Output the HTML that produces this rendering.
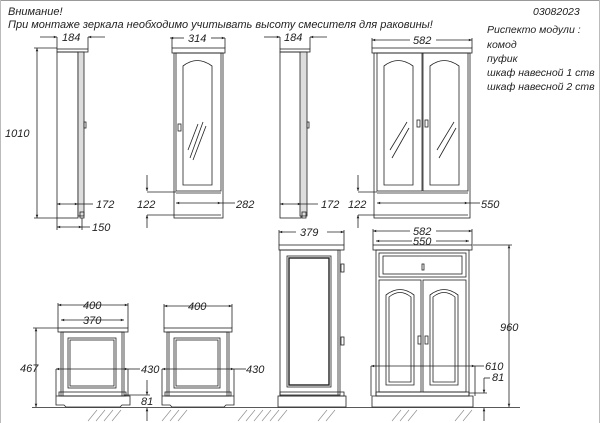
<!DOCTYPE html>
<html><head><meta charset="utf-8"><style>
html,body{margin:0;padding:0;background:#fff;}
svg{display:block;}
text{font-family:"Liberation Sans","DejaVu Sans",sans-serif;font-style:italic;fill:#222;}
</style></head><body>
<svg width="600" height="423" viewBox="0 0 600 423" xmlns="http://www.w3.org/2000/svg">
<defs>
<marker id="a" viewBox="0 0 10 10" refX="10" refY="5" markerWidth="6" markerHeight="4" orient="auto-start-reverse"><path d="M0,1 L10,5 L0,9z" fill="#222"/></marker>
</defs>
<rect x="0" y="0" width="600" height="423" fill="#fff"/>
<line x1="0" y1="0.5" x2="600" y2="0.5" stroke="#999"/>
<line x1="0.5" y1="0" x2="0.5" y2="423" stroke="#bbb"/>
<line x1="599.5" y1="0" x2="599.5" y2="423" stroke="#bbb"/>
<text x="8" y="15" font-size="11">Внимание!</text>
<text x="8" y="28" font-size="11">При монтаже зеркала необходимо учитывать высоту смесителя для раковины!</text>
<text x="533" y="15" font-size="10.5">03082023</text>
<g font-size="10.5">
<text x="487" y="33">Риспекто  модули :</text>
<text x="487" y="48">комод</text>
<text x="487" y="62">пуфик</text>
<text x="487" y="76">шкаф  навесной  1 ств</text>
<text x="487" y="90">шкаф  навесной  2 ств</text>
</g>
<g stroke="#222" stroke-width="0.8" fill="none">
<!-- Cabinet 1 side -->
<rect x="57" y="49" width="31" height="3"/>
<rect x="57" y="52" width="21" height="166"/>
<rect x="78" y="52" width="6" height="164" fill="#ddd"/>
<rect x="84" y="122" width="2" height="6"/>
<rect x="80" y="212" width="4" height="6"/>
<!-- dims -->
<line x1="40" y1="37" x2="57" y2="37" marker-end="url(#a)"/>
<line x1="105" y1="37" x2="88" y2="37" marker-end="url(#a)"/>
<line x1="57" y1="37" x2="57" y2="49"/><line x1="88" y1="37" x2="88" y2="49"/>
<line x1="37" y1="48" x2="37" y2="218" marker-start="url(#a)" marker-end="url(#a)"/>
<line x1="34" y1="48" x2="57" y2="48"/><line x1="34" y1="218" x2="57" y2="218"/>
<line x1="57" y1="204" x2="78" y2="204" marker-start="url(#a)" marker-end="url(#a)"/>
<line x1="78" y1="204" x2="93" y2="204"/>
<line x1="57" y1="227" x2="82" y2="227" marker-start="url(#a)" marker-end="url(#a)"/>
<line x1="82" y1="227" x2="90" y2="227"/>
<line x1="57" y1="218" x2="57" y2="230"/><line x1="82" y1="218" x2="82" y2="230"/>
<!-- Cabinet 2 front -->
<rect x="172" y="48" width="53" height="5"/>
<rect x="174" y="53" width="49" height="165"/>
<rect x="176" y="53" width="45" height="138"/>
<path d="M183,185 L183,66 Q197,55 212,66 L212,185 Z"/>
<line x1="176" y1="193" x2="221" y2="193"/>
<line x1="176" y1="215" x2="221" y2="215"/>
<rect x="178" y="124" width="3" height="7"/>
<line x1="190" y1="158" x2="203" y2="122"/><line x1="193" y1="160" x2="206" y2="126"/><line x1="188" y1="150" x2="198" y2="124"/>
<line x1="170" y1="38" x2="184" y2="38" marker-start="url(#a)"/>
<line x1="211" y1="38" x2="225" y2="38" marker-end="url(#a)"/>
<line x1="172" y1="38" x2="172" y2="48"/><line x1="225" y1="38" x2="225" y2="48"/>
<line x1="147" y1="175" x2="147" y2="191" marker-end="url(#a)"/>
<line x1="147" y1="228" x2="147" y2="215" marker-end="url(#a)"/>
<line x1="147" y1="192" x2="176" y2="192"/><line x1="147" y1="215" x2="176" y2="215"/>
<line x1="176" y1="203" x2="221" y2="203" marker-start="url(#a)" marker-end="url(#a)"/>
<line x1="221" y1="203" x2="235" y2="203"/>
<!-- Cabinet 3 side -->
<rect x="280" y="49" width="30" height="3"/>
<rect x="280" y="52" width="21" height="166"/>
<rect x="300" y="52" width="7" height="164" fill="#ddd"/>
<rect x="307" y="122" width="2" height="6"/>
<rect x="302" y="212" width="4" height="6"/>
<line x1="264" y1="37" x2="280" y2="37" marker-end="url(#a)"/>
<line x1="327" y1="37" x2="310" y2="37" marker-end="url(#a)"/>
<line x1="280" y1="37" x2="280" y2="49"/><line x1="310" y1="37" x2="310" y2="49"/>
<line x1="280" y1="204" x2="301" y2="204" marker-start="url(#a)" marker-end="url(#a)"/>
<line x1="301" y1="204" x2="318" y2="204"/>
<!-- Cabinet 4 two doors -->
<rect x="372" y="48" width="100" height="5"/>
<rect x="374" y="53" width="96" height="165"/>
<rect x="377" y="53" width="45" height="138"/><rect x="423" y="53" width="45" height="138"/>
<path d="M384,185 L384,66 Q398,55 413,66 L413,185 Z"/>
<path d="M430,185 L430,66 Q444,55 459,66 L459,185 Z"/>
<line x1="377" y1="193" x2="468" y2="193"/><line x1="377" y1="215" x2="468" y2="215"/>
<rect x="417" y="120" width="3" height="7"/><rect x="425" y="120" width="3" height="7"/>
<line x1="390" y1="150" x2="407" y2="122"/><line x1="392" y1="158" x2="409" y2="128"/><line x1="437" y1="150" x2="454" y2="122"/><line x1="439" y1="158" x2="456" y2="128"/>
<line x1="372" y1="40" x2="410" y2="40" marker-start="url(#a)"/>
<line x1="436" y1="40" x2="472" y2="40" marker-end="url(#a)"/>
<line x1="372" y1="38" x2="372" y2="48"/><line x1="472" y1="38" x2="472" y2="48"/>
<line x1="358" y1="175" x2="358" y2="191" marker-end="url(#a)"/>
<line x1="358" y1="228" x2="358" y2="215" marker-end="url(#a)"/>
<line x1="358" y1="192" x2="377" y2="192"/><line x1="358" y1="215" x2="377" y2="215"/>
<line x1="377" y1="203" x2="468" y2="203" marker-start="url(#a)" marker-end="url(#a)"/>
<line x1="468" y1="203" x2="480" y2="203"/>
<!-- Pouf 1 -->
<rect x="58" y="328" width="70" height="4"/>
<rect x="61" y="332" width="63" height="64"/><rect x="63" y="332" width="59" height="64"/>
<rect x="68" y="338" width="48" height="50"/><rect x="70" y="340" width="44" height="46"/>
<rect x="59" y="392" width="67" height="4"/>
<path d="M56,396 L130,396 L130,405 L122,405 L120,407 L66,407 L64,405 L56,405 Z"/>
<line x1="58" y1="305" x2="128" y2="305" marker-start="url(#a)" marker-end="url(#a)"/>
<line x1="58" y1="303" x2="58" y2="328"/><line x1="128" y1="303" x2="128" y2="328"/>
<line x1="61" y1="320" x2="124" y2="320" marker-start="url(#a)" marker-end="url(#a)"/>
<line x1="36" y1="328" x2="36" y2="407" marker-start="url(#a)" marker-end="url(#a)"/>
<line x1="33" y1="328" x2="58" y2="328"/>
<line x1="56" y1="369" x2="128" y2="369" marker-start="url(#a)" marker-end="url(#a)"/>
<line x1="56" y1="369" x2="56" y2="396"/><line x1="128" y1="369" x2="128" y2="396"/>
<line x1="128" y1="369" x2="140" y2="369"/>
<line x1="147" y1="380" x2="147" y2="395" marker-end="url(#a)"/>
<line x1="147" y1="421" x2="147" y2="408" marker-end="url(#a)"/>
<line x1="124" y1="395" x2="150" y2="395"/>
<!-- Pouf 2 -->
<rect x="164" y="328" width="68" height="4"/>
<rect x="167" y="332" width="62" height="64"/><rect x="169" y="332" width="58" height="64"/>
<rect x="174" y="338" width="46" height="50"/><rect x="176" y="340" width="42" height="46"/>
<rect x="165" y="392" width="66" height="4"/>
<path d="M162,396 L234,396 L234,405 L226,405 L224,407 L172,407 L170,405 L162,405 Z"/>
<line x1="164" y1="306" x2="232" y2="306" marker-start="url(#a)" marker-end="url(#a)"/>
<line x1="164" y1="304" x2="164" y2="328"/><line x1="232" y1="304" x2="232" y2="328"/>
<line x1="162" y1="369" x2="234" y2="369" marker-start="url(#a)" marker-end="url(#a)"/>
<line x1="162" y1="369" x2="162" y2="396"/><line x1="234" y1="369" x2="234" y2="396"/>
<line x1="234" y1="369" x2="246" y2="369"/>
<!-- Tall side cabinet -->
<rect x="279" y="245" width="65" height="5"/>
<rect x="280" y="250" width="60" height="145"/>
<rect x="287" y="256" width="44" height="131"/><rect x="289" y="258" width="40" height="127" stroke-width="1.4"/>
<line x1="338" y1="250" x2="338" y2="395"/>
<rect x="341" y="264" width="3" height="8"/><rect x="341" y="337" width="3" height="8"/>
<rect x="280" y="392" width="64" height="4"/>
<rect x="278" y="396" width="68" height="11"/>
<line x1="279" y1="232" x2="296" y2="232" marker-start="url(#a)"/>
<line x1="327" y1="232" x2="344" y2="232" marker-end="url(#a)"/>
<line x1="279" y1="230" x2="279" y2="245"/><line x1="344" y1="230" x2="344" y2="245"/>
<!-- Komod -->
<rect x="373" y="245" width="99" height="5"/>
<rect x="376" y="250" width="93" height="146"/>
<rect x="379" y="253" width="87" height="24"/>
<rect x="383" y="256" width="79" height="18"/>
<rect x="422" y="264" width="2" height="6"/>
<rect x="379" y="280" width="42" height="112"/><rect x="423" y="280" width="43" height="112"/>
<path d="M386,385 L386,295 Q400,284 414,295 L414,385 Z"/><path d="M389,382 L389,297 Q400,288 411,297 L411,382 Z"/>
<path d="M430,385 L430,295 Q444,284 458,295 L458,385 Z"/><path d="M433,382 L433,297 Q444,288 455,297 L455,382 Z"/>
<rect x="418" y="336" width="3" height="8"/><rect x="425" y="336" width="3" height="8"/>
<rect x="376" y="392" width="93" height="4"/>
<path d="M372,396 L473,396 L473,407 L372,407 Z"/>
<line x1="373" y1="231" x2="410" y2="231" marker-start="url(#a)"/>
<line x1="436" y1="231" x2="472" y2="231" marker-end="url(#a)"/>
<line x1="373" y1="229" x2="373" y2="245"/><line x1="472" y1="229" x2="472" y2="245"/>
<line x1="376" y1="241" x2="412" y2="241" marker-start="url(#a)"/>
<line x1="436" y1="241" x2="469" y2="241" marker-end="url(#a)"/>
<line x1="473" y1="245" x2="512" y2="245"/>
<line x1="509" y1="245" x2="509" y2="407" marker-start="url(#a)" marker-end="url(#a)"/>
<line x1="371" y1="366" x2="475" y2="366" marker-start="url(#a)" marker-end="url(#a)"/>
<line x1="371" y1="366" x2="371" y2="396"/><line x1="475" y1="366" x2="475" y2="396"/>
<line x1="475" y1="366" x2="484" y2="366"/>
<line x1="484" y1="378" x2="484" y2="393" marker-end="url(#a)"/>
<line x1="484" y1="421" x2="484" y2="408" marker-end="url(#a)"/>
<line x1="469" y1="393" x2="487" y2="393"/><line x1="484" y1="378" x2="490" y2="378"/>
<!-- ground -->
<line x1="32" y1="407.5" x2="520" y2="407.5"/>
</g>
<g stroke="#888" stroke-width="0.6">
<line x1="88" y1="421" x2="97" y2="410"/><line x1="96" y1="421" x2="105" y2="410"/><line x1="104" y1="421" x2="113" y2="410"/><line x1="112" y1="421" x2="121" y2="410"/>
<line x1="162" y1="421" x2="171" y2="410"/><line x1="170" y1="421" x2="179" y2="410"/><line x1="178" y1="421" x2="187" y2="410"/>
<line x1="238" y1="421" x2="247" y2="410"/><line x1="246" y1="421" x2="255" y2="410"/><line x1="254" y1="421" x2="263" y2="410"/>
<line x1="262" y1="421" x2="271" y2="410"/><line x1="270" y1="421" x2="279" y2="410"/><line x1="278" y1="421" x2="287" y2="410"/>
<line x1="318" y1="421" x2="327" y2="410"/><line x1="326" y1="421" x2="335" y2="410"/>
<line x1="392" y1="421" x2="401" y2="410"/><line x1="400" y1="421" x2="409" y2="410"/><line x1="408" y1="421" x2="417" y2="410"/>
<line x1="455" y1="421" x2="464" y2="410"/><line x1="463" y1="421" x2="472" y2="410"/>
</g>
<g font-size="11">
<text x="62" y="41">184</text>
<text x="5" y="137">1010</text>
<text x="96" y="208">172</text>
<text x="92" y="231">150</text>
<text x="188" y="42">314</text>
<text x="137" y="208">122</text>
<text x="236" y="208">282</text>
<text x="284" y="41">184</text>
<text x="321" y="208">172</text>
<text x="413" y="44">582</text>
<text x="348" y="208">122</text>
<text x="481" y="208">550</text>
<text x="83" y="309">400</text>
<text x="83" y="324">370</text>
<text x="20" y="372">467</text>
<text x="141" y="373">430</text>
<text x="141" y="405">81</text>
<text x="188" y="310">400</text>
<text x="246" y="373">430</text>
<text x="300" y="236">379</text>
<text x="413" y="235">582</text>
<text x="413" y="245">550</text>
<text x="500" y="331">960</text>
<text x="485" y="370">610</text>
<text x="492" y="381">81</text>
</g>
</svg>
</body></html>
